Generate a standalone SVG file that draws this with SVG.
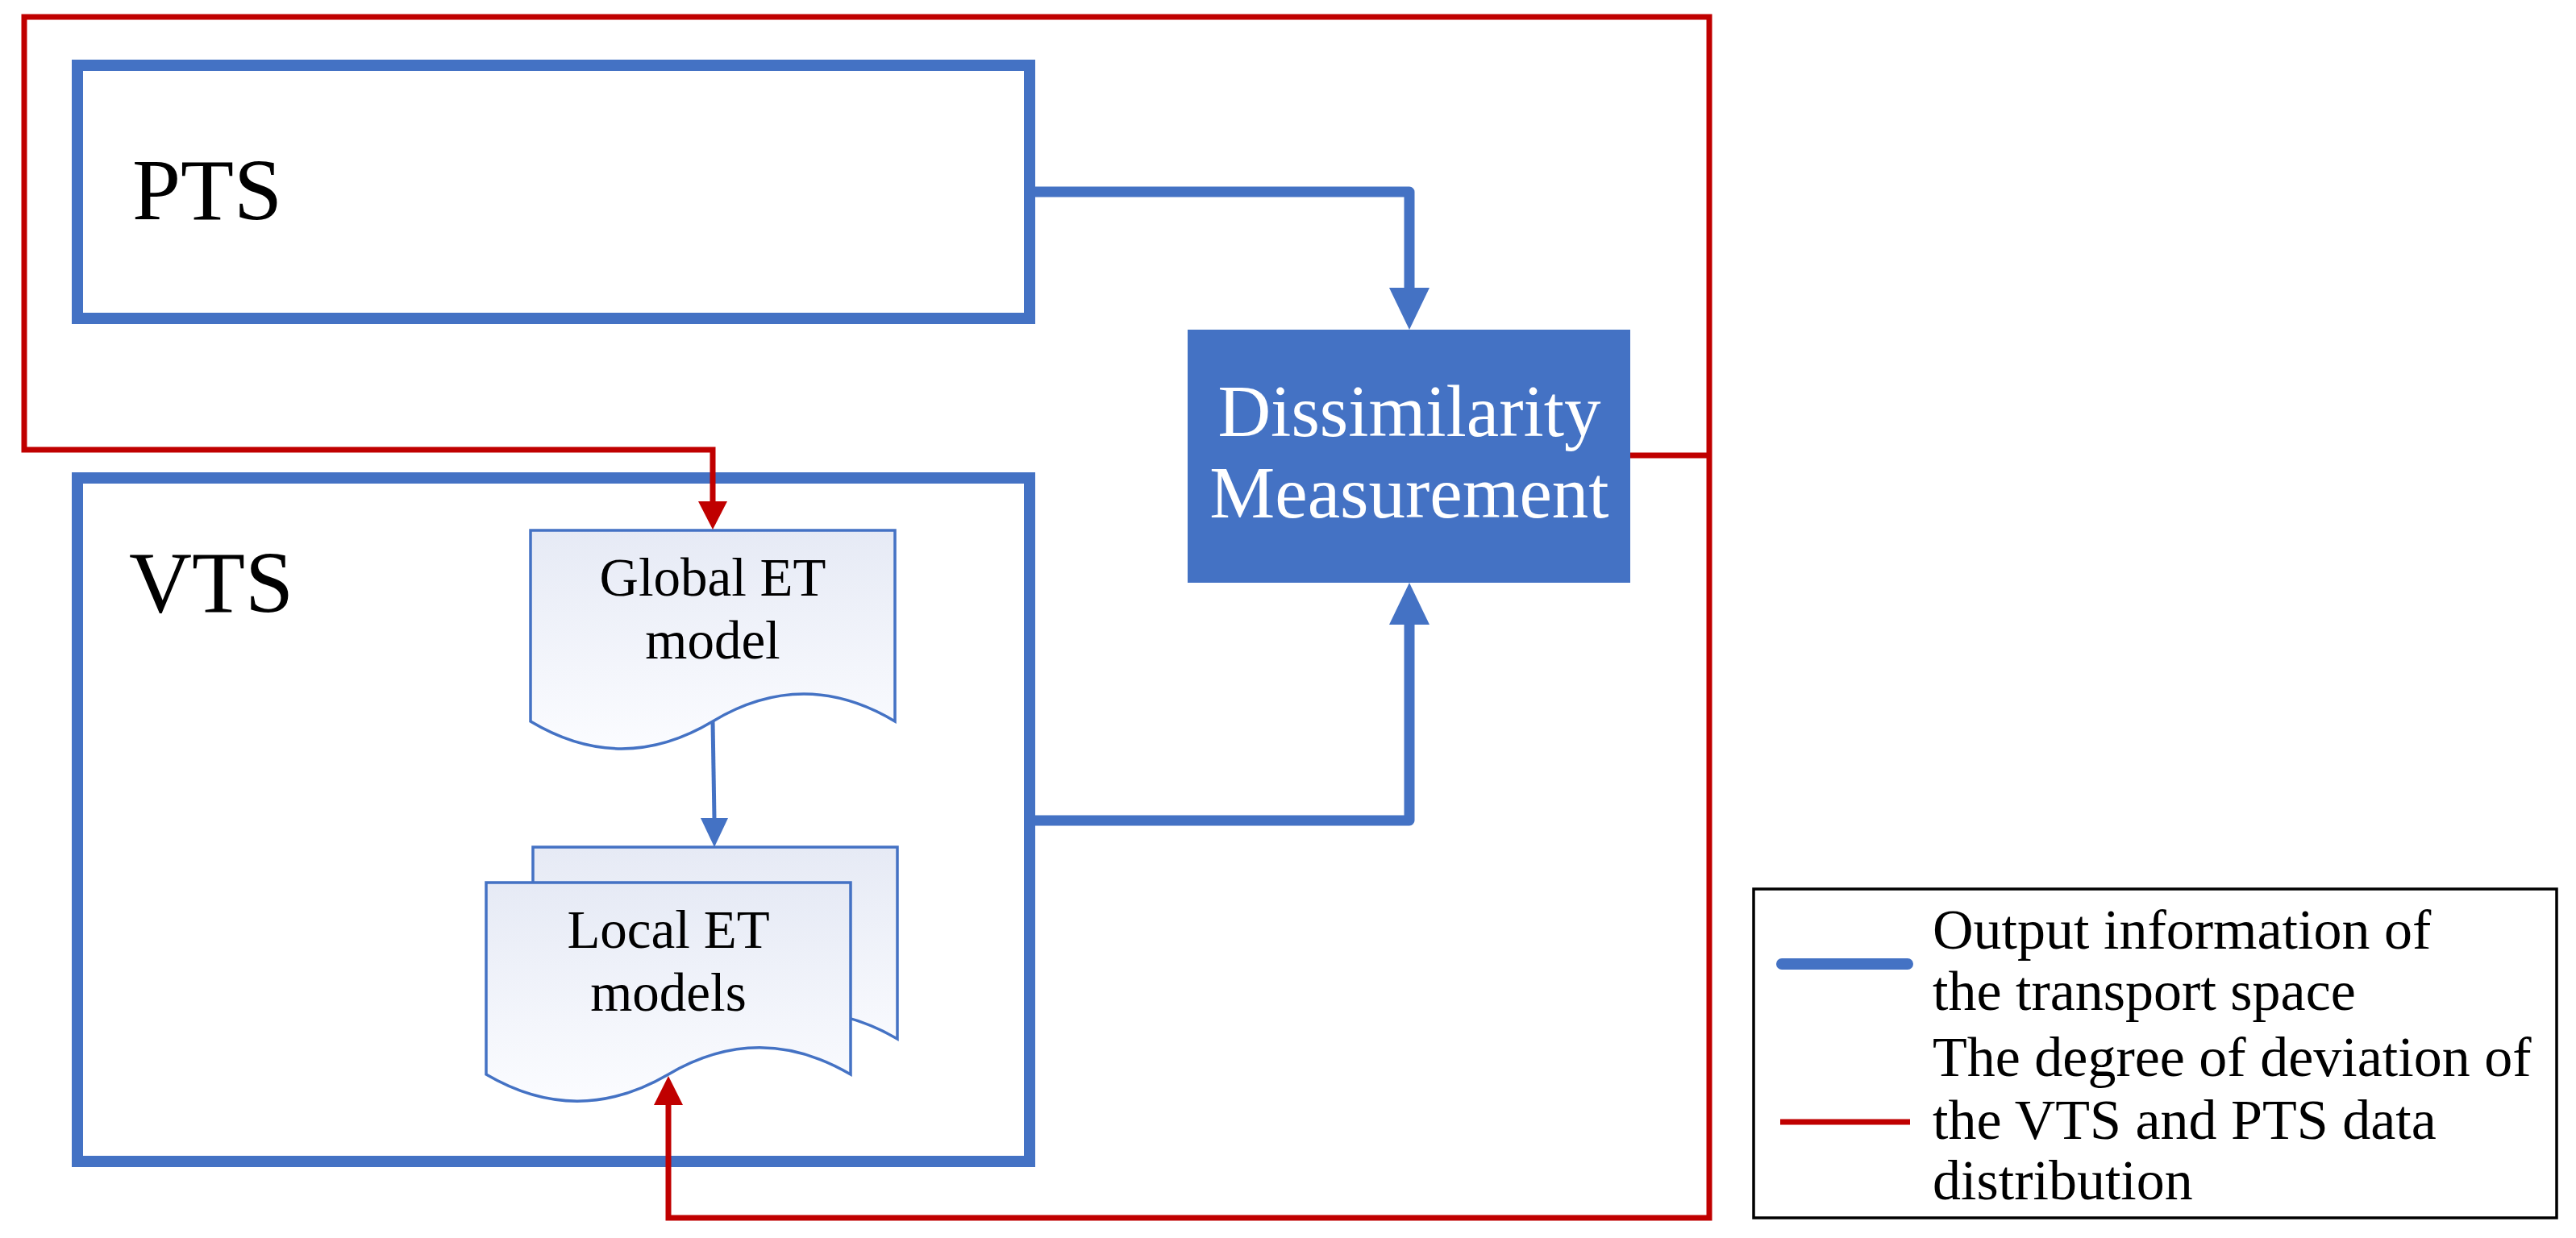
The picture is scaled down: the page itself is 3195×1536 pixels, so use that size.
<svg xmlns="http://www.w3.org/2000/svg" width="3195" height="1536" viewBox="0 0 3195 1536">
<style>
.box{fill:none;stroke:#4472C4;stroke-width:14}
.doc{fill:url(#docg);stroke:#4472C4;stroke-width:3.5}
.blue{fill:none;stroke:#4472C4;stroke-width:13;stroke-linejoin:round}
.red{fill:none;stroke:#C00000;stroke-width:7;stroke-linejoin:miter}
.bh{fill:#4472C4}
.rh{fill:#C00000}
.big{font-family:"Liberation Serif",serif;font-size:108px;fill:#000}
.dt{font-family:"Liberation Serif",serif;font-size:67px;fill:#000;text-anchor:middle}
.wt{font-family:"Liberation Serif",serif;font-size:91px;fill:#fff;text-anchor:middle}
.lt{font-family:"Liberation Serif",serif;font-size:70px;fill:#000}
</style>
<defs>
<linearGradient id="docg" x1="0" y1="0" x2="0" y2="1">
<stop offset="0" stop-color="#E6EAF5"/>
<stop offset="1" stop-color="#FBFCFF"/>
</linearGradient>
</defs>
<rect width="3195" height="1536" fill="#fff"/>
<g id="pts">
<rect class="box" x="96" y="81" width="1181" height="314"/>
<text class="big" x="164" y="272">PTS</text>
</g>
<g id="vts">
<rect class="box" x="96" y="593" width="1181" height="848"/>
<text class="big" x="160" y="759">VTS</text>
</g>
<g id="global-et">
<path class="doc" d="M658,658 H1110 V895 C1035,850 959,850 884,895 C809,940 733,940 658,895 Z"/>
<text class="dt" x="884" y="739">Global ET</text>
<text class="dt" x="884" y="817">model</text>
</g>
<g id="local-et">
<path class="doc" d="M661,1051 H1113 V1289 C1038,1245 962,1245 887,1289 C812,1333 736,1333 661,1289 Z"/>
<path class="doc" d="M603,1095 H1055 V1333 C980,1289 904,1289 829,1333 C754,1377 678,1377 603,1333 Z"/>
<text class="dt" x="829" y="1176">Local ET</text>
<text class="dt" x="829" y="1254">models</text>
</g>
<g id="dissimilarity">
<rect x="1473" y="409" width="549" height="314" fill="#4472C4"/>
<text class="wt" x="1748" y="541">Dissimilarity</text>
<text class="wt" x="1748" y="642">Measurement</text>
</g>
<g id="legend">
<rect x="2175" y="1103" width="996" height="408" fill="#fff" stroke="#000" stroke-width="3.5"/>
<line x1="2210" y1="1196" x2="2366" y2="1196" stroke="#4472C4" stroke-width="14" stroke-linecap="round"/>
<line x1="2208" y1="1392" x2="2369" y2="1392" stroke="#C00000" stroke-width="7"/>
<text class="lt" x="2397" y="1177">Output information of</text>
<text class="lt" x="2397" y="1253">the transport space</text>
<text class="lt" x="2397" y="1335">The degree of deviation of</text>
<text class="lt" x="2397" y="1413">the VTS and PTS data</text>
<text class="lt" x="2397" y="1488">distribution</text>
</g>
<g id="connectors">
<path class="red" d="M2022,565 H2120"/>
<path class="red" d="M884,622 V558 H30 V21 H2120 V1511 H829 V1371"/>
<polygon class="rh" points="866,622 902,622 884,657"/>
<polygon class="rh" points="811,1371 847,1371 829,1335"/>
<path class="blue" d="M1283,238 H1748 V358"/>
<polygon class="bh" points="1723,357 1773,357 1748,409"/>
<path class="blue" d="M1283,1018 H1748 V774"/>
<polygon class="bh" points="1723,775 1773,775 1748,723"/>
<path fill="none" stroke="#4472C4" stroke-width="5" d="M884,895 L886,1016"/>
<polygon class="bh" points="869,1015 903,1015 886,1051"/>
</g>
</svg>
